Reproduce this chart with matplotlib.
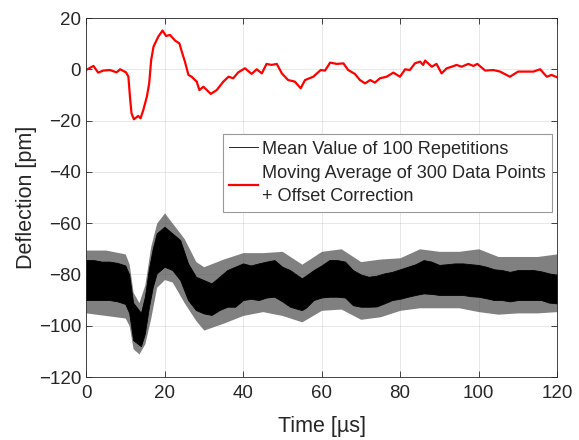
import matplotlib
matplotlib.use("Agg")
import matplotlib.pyplot as plt
import numpy as np

# Smoothed (moving average + offset correction) trace
red_t = [0, 1.9, 3.1, 4.4, 6.1, 7.8, 8.7, 10.2, 10.8, 11.2, 11.6, 12.2, 13.3, 13.9,
         14.6, 15.5, 16.1, 16.6, 17.2, 18.4, 19.5, 20.4, 21.4, 22.7, 23.8, 24.4,
         25.2, 26.1, 26.9, 28.2, 28.9, 29.9, 31.8, 33.3, 35.0, 36.3, 37.5, 38.8,
         40.5, 42.2, 43.5, 44.8, 46.0, 47.3, 48.6, 49.9, 51.5, 53.2, 54.7, 55.8,
         57.9, 59.8, 60.9, 62.2, 63.9, 65.6, 66.8, 68.5, 69.8, 71.1, 72.4, 73.6,
         74.9, 76.6, 78.3, 80.0, 81.3, 82.5, 83.8, 85.1, 85.9, 86.4, 88.1, 89.3,
         90.6, 91.9, 93.2, 94.4, 95.7, 97.4, 98.7, 99.7, 101.7, 103.8, 105.5,
         108.0, 110.1, 112.3, 114.0, 115.7, 117.4, 118.6, 120.0]
red_v = [-0.3, 1.3, -1.3, -0.5, -0.3, -1.2, 0.0, -1.2, -2.9, -10.7, -17.2, -19.5,
         -18.2, -19.1, -15.9, -10.7, -5.5, 3.6, 8.8, 12.7, 15.1, 13.0, 13.4, 11.2,
         10.1, 6.9, 3.0, -2.2, -2.9, -4.8, -8.1, -6.8, -9.6, -8.1, -4.8, -2.9, -3.5,
         -1.2, 0.4, -1.8, 0.0, -1.6, 2.1, 1.7, 2.1, -1.6, -4.2, -4.8, -7.4, -4.2,
         -2.9, -0.3, -0.5, 2.6, 2.1, 2.3, -0.3, -1.8, -4.2, -5.5, -4.2, -5.2, -3.5,
         -2.9, -1.3, -2.9, 0.0, -0.3, 2.3, 3.0, 1.7, 3.4, 1.0, 2.1, -1.6, 0.4, 1.0,
         1.7, 1.0, 2.1, 1.3, 2.1, -0.5, -0.3, -0.9, -2.9, -0.9, -0.9, -0.9, 0.0,
         -2.9, -2.2, -3.1]

# Raw mean trace: dense noisy band, core envelope
blk_t = [0, 2, 4, 6, 8, 10, 11, 12, 14, 15, 16, 17, 18, 20, 22, 24, 26, 28, 30,
         32, 34, 36, 38, 40, 42, 44, 46, 48, 50, 52, 54, 55, 56, 58, 60, 62, 64,
         66, 68, 70, 72, 74, 76, 78, 80, 82, 84, 86, 88, 90, 92, 94, 96, 98, 100,
         102, 104, 106, 108, 110, 112, 114, 116, 118, 120]
blk_hi = [-74.4, -74.4, -75.0, -75.0, -75.5, -76.5, -80.0, -91.0, -95.0, -88.7,
          -78.0, -70.0, -64.0, -61.4, -64.0, -66.6, -75.7, -80.9, -82.2, -83.5,
          -80.9, -78.3, -77.0, -75.7, -76.5, -75.7, -75.0, -74.4, -77.0, -78.3,
          -80.5, -81.5, -80.5, -78.3, -76.5, -74.4, -74.4, -75.0, -78.3, -80.0,
          -80.9, -80.5, -79.6, -79.0, -78.0, -77.0, -76.0, -74.4, -75.0, -76.3,
          -76.0, -75.7, -75.7, -76.0, -76.3, -77.0, -78.0, -78.3, -79.0, -78.3,
          -78.3, -78.3, -78.8, -79.6, -80.2]
blk_lo = [-90.0, -90.0, -90.0, -90.0, -90.5, -91.5, -95.0, -105.6, -108.0, -103.0,
          -93.0, -85.0, -79.6, -77.0, -78.3, -82.2, -90.0, -93.9, -95.2, -95.8,
          -93.9, -92.6, -92.6, -90.0, -89.5, -90.0, -89.0, -88.7, -90.5, -92.6,
          -93.5, -93.9, -93.0, -90.0, -89.0, -88.7, -88.7, -89.0, -92.0, -92.6,
          -92.6, -92.5, -91.3, -90.0, -89.5, -88.7, -88.0, -87.4, -87.6, -88.0,
          -88.0, -88.0, -88.0, -88.5, -88.7, -89.3, -90.0, -90.0, -90.5, -90.0,
          -90.0, -90.0, -90.0, -91.0, -91.3]

# Raw mean trace: extent of the noise spikes
spk_t = [0, 5, 10, 11, 12, 13.5, 15, 16.5, 18, 20, 22, 25, 28, 30, 35, 40, 45, 50,
         55, 60, 65, 70, 75, 80, 85, 90, 95, 100, 105, 110, 115, 120]
spk_hi = [-70.5, -70.5, -72.0, -76.0, -87.0, -91.0, -84.0, -69.0, -60.0, -56.0,
          -60.0, -66.0, -75.0, -77.0, -74.0, -71.5, -71.5, -71.0, -76.0, -71.0,
          -70.0, -75.0, -74.0, -73.5, -70.0, -71.0, -71.0, -70.0, -73.0, -73.0,
          -73.0, -72.0]
spk_lo = [-95.0, -96.0, -97.0, -100.0, -109.0, -111.0, -107.0, -97.0, -85.0,
          -82.0, -83.0, -91.0, -98.0, -101.7, -99.0, -96.0, -94.5, -96.0, -98.5,
          -94.0, -93.5, -97.5, -96.5, -94.0, -93.0, -93.0, -93.0, -94.5, -95.5,
          -95.0, -95.0, -94.5]

x_ticks = [0, 20, 40, 60, 80, 100, 120]
y_ticks = [20, 0, -20, -40, -60, -80, -100, -120]

plt.rcParams['font.family'] = ['Liberation Sans', 'DejaVu Sans']
txt = '#262626'

fig = plt.figure(figsize=(5.79, 4.40), dpi=100)
ax = fig.add_axes([86/579, 1-377/440, 471/579, 359/440])

ax.fill_between(spk_t, spk_lo, spk_hi, color='#4a4a4a', alpha=0.7, linewidth=0)
ax.fill_between(blk_t, blk_lo, blk_hi, color='black', linewidth=0.6, edgecolor='black')
ax.plot([], [], color='black', linewidth=0.6, label='Mean Value of 100 Repetitions')
ax.plot(red_t, red_v, color='red', linewidth=1.6,
        label='Moving Average of 300 Data Points\n+ Offset Correction')

ax.set_xlim(0, 120)
ax.set_ylim(-120, 20)
ax.set_xticks(x_ticks)
ax.set_yticks(y_ticks)
ax.grid(True, color='#262626', alpha=0.12, linewidth=0.6)
ax.set_axisbelow(True)
ax.tick_params(direction='in', top=True, right=True, length=4, width=0.6,
               colors=txt, labelsize=13.5, labelcolor=txt)
ax.tick_params(axis='x', pad=6)
for s in ax.spines.values():
    s.set_color(txt)
    s.set_linewidth(0.6)
ax.set_xlabel('Time [µs]', fontsize=15.5, color=txt, labelpad=10)
ax.set_ylabel('Deflection [pm]', fontsize=15.5, color=txt, labelpad=1)

leg = ax.legend(loc='upper right', bbox_to_anchor=(0.989, 0.676), borderaxespad=0,
                fontsize=13.1, frameon=True, fancybox=False, framealpha=1,
                edgecolor='#999999', handlelength=1.6, handletextpad=0.2,
                labelspacing=0.42, borderpad=0.35)
leg.get_frame().set_linewidth(0.8)
for t in leg.get_texts():
    t.set_color(txt)
    t.set_linespacing(1.45)

fig.savefig('out.png', dpi=100)
